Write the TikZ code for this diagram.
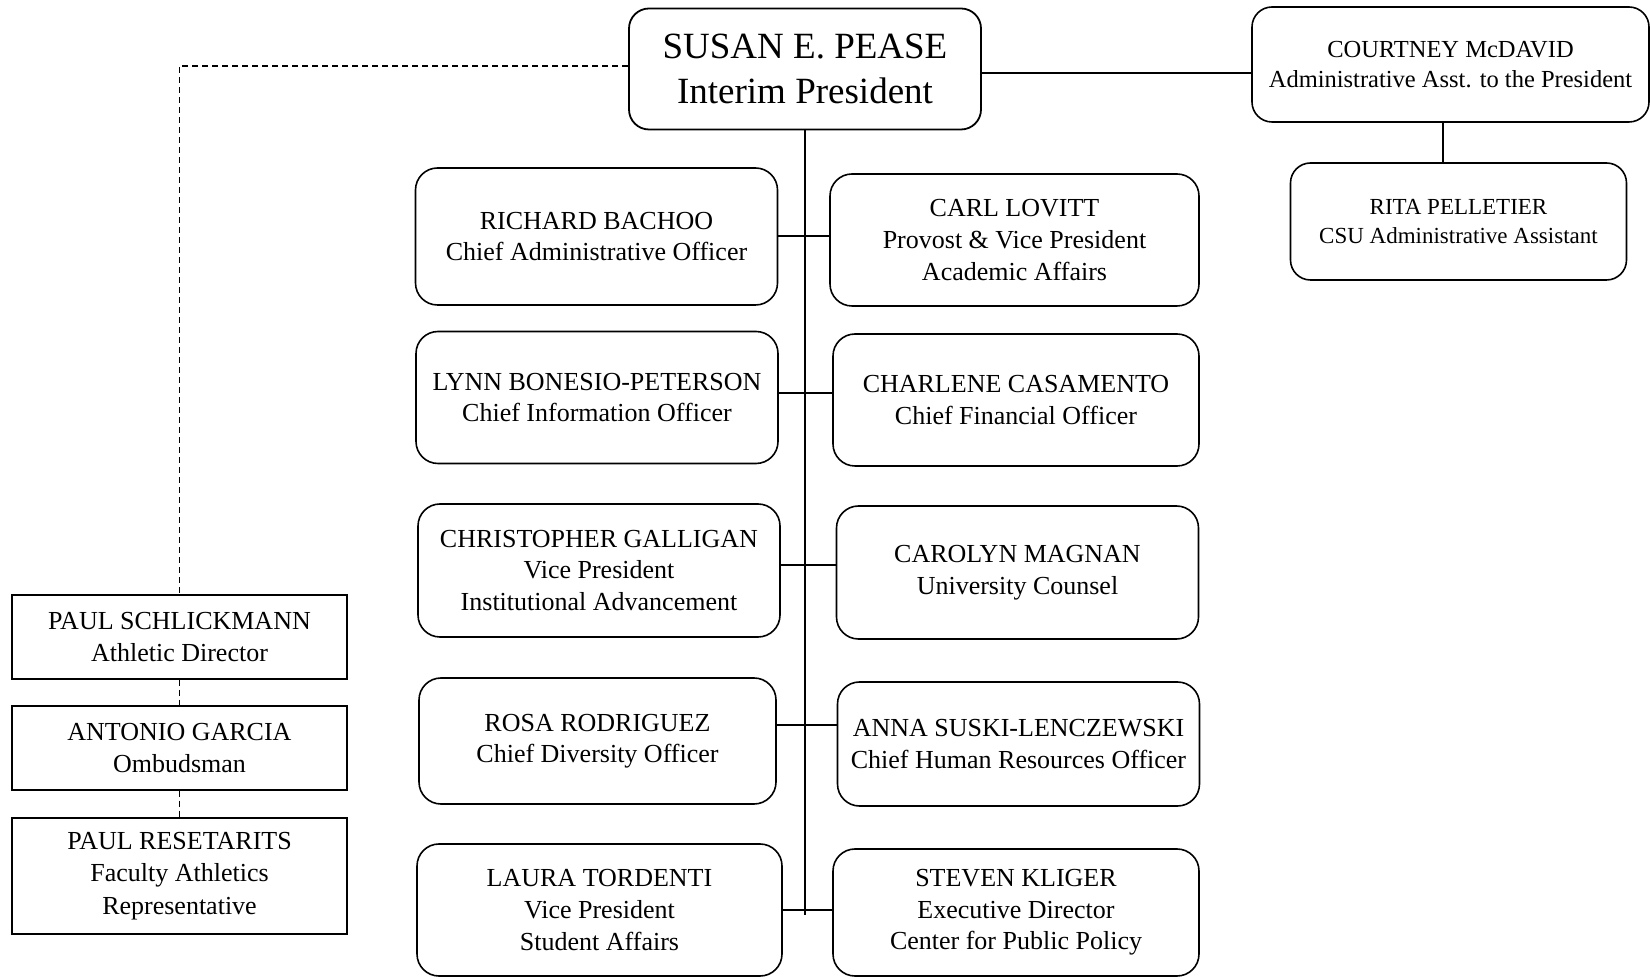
\documentclass[tikz,border=0pt]{standalone}
\usepackage{fontspec}
\setmainfont{Liberation Serif}
\usepackage{tikz}
\usetikzlibrary{calc}
\tikzstyle{Head} = [draw, shape = rectangle, rounded corners=20pt, line width=1.8pt, minimum width=352pt, minimum height=121pt, align=center, font=\fontsize{37}{45}\selectfont]
\tikzstyle{Assistant} = [draw, shape = rectangle, rounded corners=20pt, line width=1.6pt, minimum width=336pt, minimum height=117pt, align=center, font=\fontsize{23}{29.5}\selectfont]
\tikzstyle{Officer} = [draw, shape = rectangle, rounded corners=22pt, line width=1.6pt, minimum width=362pt, minimum height=132pt, align=center, font=\fontsize{26}{31.6}\selectfont]
\tikzstyle{Staff} = [draw, shape = rectangle, line width=1.2pt, minimum width=335pt, minimum height=84pt, align=center, font=\fontsize{26}{32.5}\selectfont]
\tikzstyle{Link} = [line width=2pt]
\tikzstyle{Trunk} = [line width=1.4pt]
\tikzstyle{Dotted} = [line width=1.8pt, dash pattern=on 6pt off 4pt]

\begin{document}
\begin{tikzpicture}[x=1pt, y=1pt]
        \useasboundingbox (0,0) rectangle (1650,978);

        %%%%% Top Line %%%%%

        \draw (805,909) node[Head] (A) {SUSAN E. PEASE\\Interim President};
        \draw node[Assistant, minimum width=397pt, minimum height=115pt, font=\fontsize{24.5}{30.5}\selectfont] at ($(A) + (645.5,4.5)$) (B) {COURTNEY McDAVID\\Administrative Asst. to the President};
        \draw node[Assistant] at ($(B) + (8,-157)$) (C) {RITA PELLETIER\\CSU Administrative Assistant};

        %%%%% Officer Rows %%%%%

        \draw node[Officer, minimum height=137pt] at ($(A) + (-208.5,-167.5)$) (D) {RICHARD BACHOO\\Chief Administrative Officer};
        \draw node[Officer, minimum width=369pt] at ($(D) + (418,-3.5)$) (E) {CARL LOVITT\\Provost \& Vice President\\Academic Affairs};

        \draw node[Officer] at ($(D) + (0.5,-161)$) (F) {LYNN BONESIO-PETERSON\\Chief Information Officer};
        \draw node[Officer, minimum width=366pt] at ($(F) + (419,-2.5)$) (G) {CHARLENE CASAMENTO\\Chief Financial Officer};

        \draw node[Officer, minimum height=133pt] at ($(F) + (2,-173)$) (H) {CHRISTOPHER GALLIGAN\\Vice President\\Institutional Advancement};
        \draw node[Officer, minimum height=133pt] at ($(H) + (418.5,-2)$) (I) {CAROLYN MAGNAN\\University Counsel};

        \draw node[Officer, minimum width=357pt, minimum height=126pt] at ($(H) + (-1.5,-170.5)$) (J) {ROSA RODRIGUEZ\\Chief Diversity Officer};
        \draw node[Officer, minimum height=124pt] at ($(J) + (421,-3)$) (K) {ANNA SUSKI-LENCZEWSKI\\Chief Human Resources Officer};

        \draw node[Officer, minimum width=365pt] at ($(J) + (2,-169)$) (L) {LAURA TORDENTI\\Vice President\\Student Affairs};
        \draw node[Officer, minimum width=366pt, minimum height=127pt] at ($(L) + (416.5,-2.5)$) (M) {STEVEN KLIGER\\Executive Director\\Center for Public Policy};

        %%%%% Left Column %%%%%

        \draw node[Staff] at ($(A) + (-625.5,-568)$) (N) {PAUL SCHLICKMANN\\Athletic Director};
        \draw node[Staff] at ($(N) + (0,-111)$) (O) {ANTONIO GARCIA\\Ombudsman};
        \draw node[Staff, minimum height=116pt] at ($(O) + (0,-128)$) (P) {PAUL RESETARITS\\Faculty Athletics\\Representative};

        \coordinate (Q) at ($(A) + (0,-846)$);

        %%%%% Connecting Lines %%%%%

        \draw [Link] ([yshift=-4pt]A.east) -- ([yshift=-4pt]A.east -| B.west);
        \draw [Link] ([xshift=-8pt]B.south) -- ([xshift=-8pt]B.south |- C.north);
        \draw [Trunk] (A.south) -- (Q);

        \draw [Link] (D.east) -- (D.east -| E.west);
        \draw [Link] ([yshift=4pt]F.east) -- ([yshift=4pt]F.east -| G.west);
        \draw [Link] ([yshift=5pt]H.east) -- ([yshift=5pt]H.east -| I.west);
        \draw [Link] ([yshift=16pt]J.east) -- ([yshift=16pt]J.east -| K.west);
        \draw [Link] (L.east) -- (L.east -| M.west);

        \draw [Dotted] ([yshift=3pt]A.west) -| (N.north);
        \draw [Dotted] (N.south) -- (O.north);
        \draw [Dotted] (O.south) -- (P.north);

\end{tikzpicture}
\end{document}
